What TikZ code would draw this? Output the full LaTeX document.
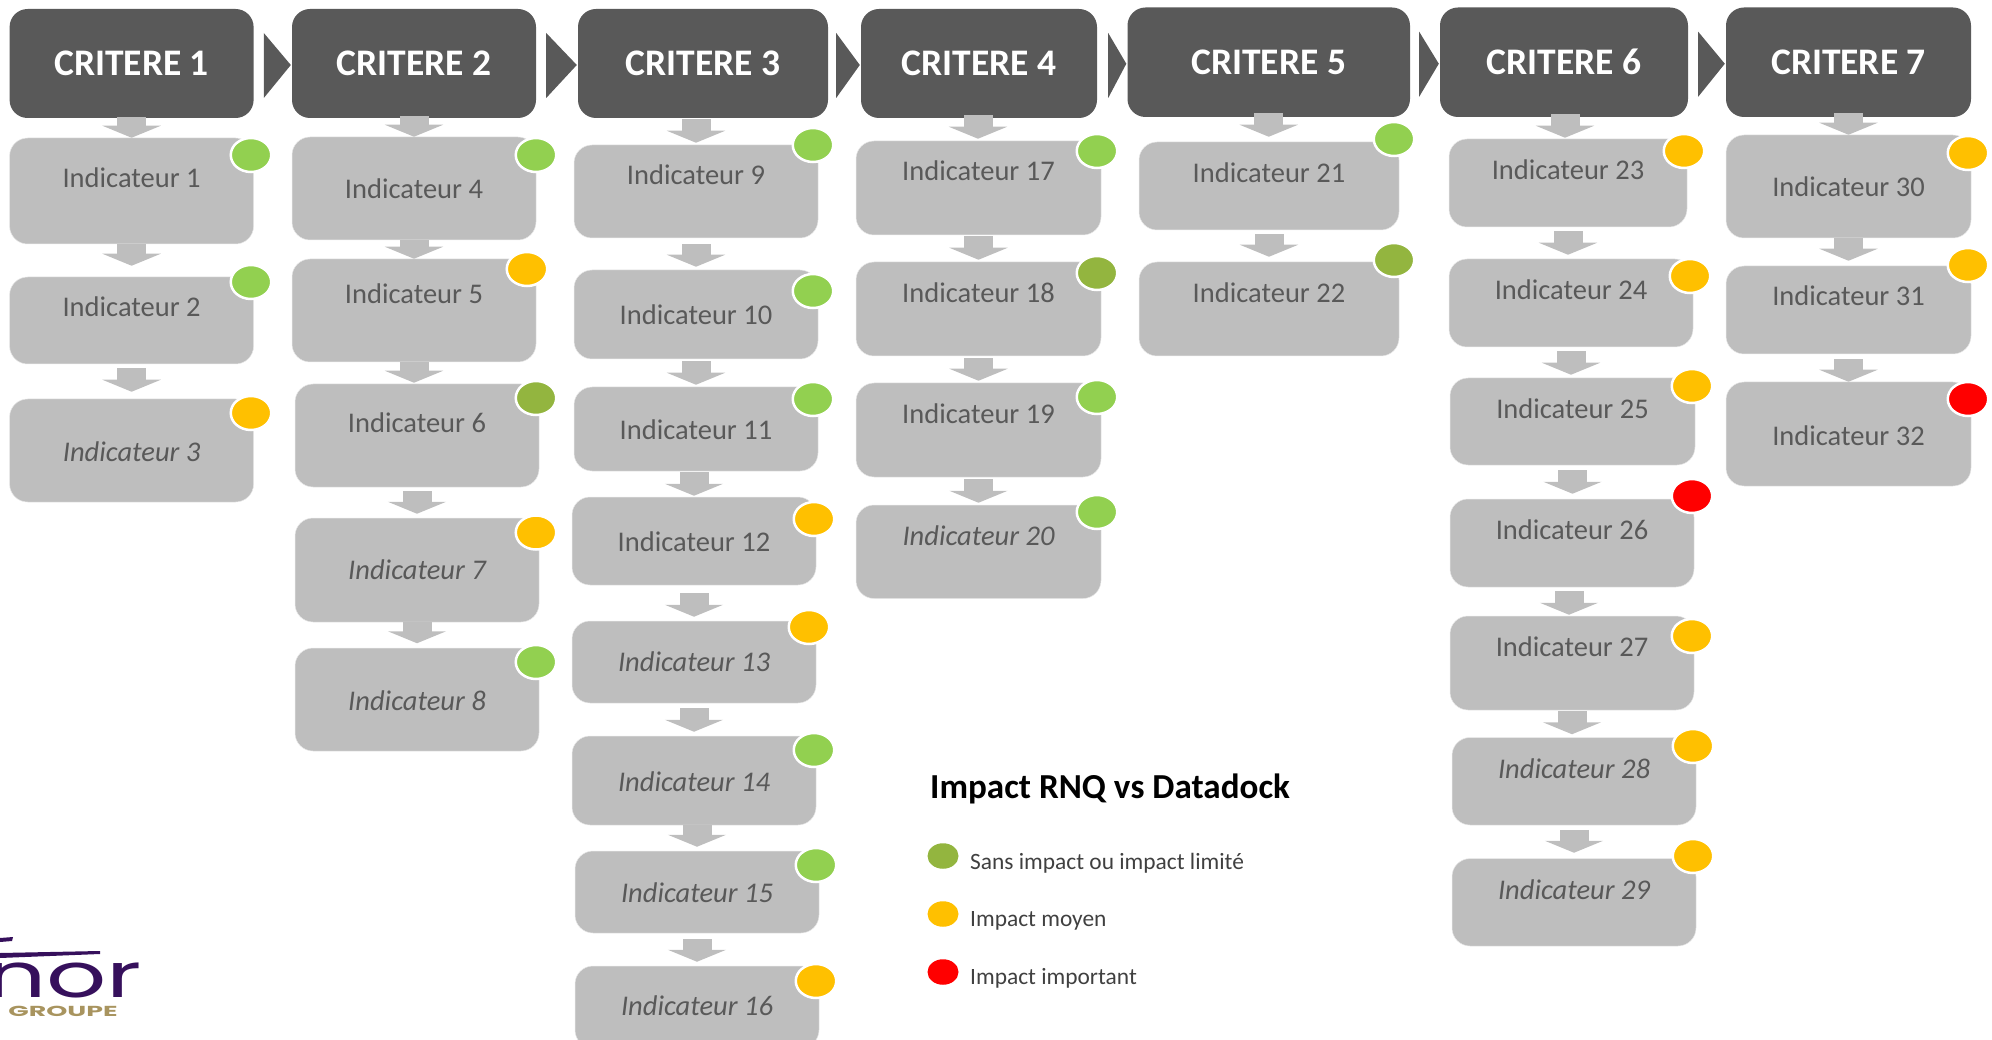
\documentclass[tikz,border=0pt]{standalone}
\usepackage{fontspec}
\setmainfont{Carlito}
\newfontfamily\logofont{Poppins}
\usetikzlibrary{arrows.meta,shapes.geometric}

\definecolor{fonce}{HTML}{595959}
\definecolor{clair}{HTML}{BEBEBE}
\definecolor{bord}{HTML}{E8E8E8}
\definecolor{vert}{HTML}{92D050}
\definecolor{olive}{HTML}{93B53F}
\definecolor{ambre}{HTML}{FFC000}
\definecolor{rouge}{HTML}{FF0000}
\definecolor{violet}{HTML}{36105C}
\definecolor{dore}{HTML}{A8945F}

\tikzset{
    entete/.style={rectangle,rounded corners=18pt,fill=fonce,inner sep=0pt,
        text=white,font=\fontsize{37.5}{44}\selectfont\bfseries},
    boite/.style={rectangle,rounded corners=18pt,fill=clair,draw=bord,line width=.5pt,inner sep=0pt},
    texte/.style={anchor=base,inner sep=0pt,text=fonce},
    pastille/.style={ellipse,draw=white,line width=2.5pt,inner sep=0pt,minimum width=40.5pt,minimum height=34pt},
    puce/.style={ellipse,inner sep=0pt,minimum width=31pt,minimum height=25.5pt},
    legende/.style={anchor=base west,inner sep=0pt,text=black!75,font=\fontsize{23.4}{28}\selectfont},
    fleche/.style={draw=clair,line width=29pt,-{Triangle[width=58pt,length=12pt]}},
    chevron/.style={fill=fonce}
}

% x1 y1 x2 y2 of a header
\newcommand{\tete}[6]{\node[entete,minimum width={(#4-#2)*1pt},minimum height={(#5-#3)*1pt}] (#1) at ({(#2+#4)/2},{(#3+#5)/2}) {\raisebox{-1.2pt}{#6}};}
% block arrow, dx from the source centre, then the offsets of both ends
\newcommand{\flow}[5]{
    \coordinate (s) at ([shift={(#3,#4)}]#1.south);
    \coordinate (e) at ([shift={(0,#5)}]#2.north);
    \draw[fleche] (s) -- (s |- e);
}

\begin{document}
\begin{tikzpicture}[x=1pt,y=-1pt]
    \useasboundingbox (0,0) rectangle (1992,1040);

    \tete{h1}{9.6}{9}{253.6}{118}{CRITERE 1}
    \tete{h2}{292}{9}{536}{118}{CRITERE 2}
    \tete{h3}{578}{9}{828}{118}{CRITERE 3}
    \tete{h4}{861}{9}{1097}{118}{CRITERE 4}
    \tete{h5}{1127.5}{7.5}{1410}{117}{CRITERE 5}
    \tete{h6}{1440}{7.5}{1688}{117}{CRITERE 6}
    \tete{h7}{1726}{7.5}{1971}{117}{CRITERE 7}

    \foreach \a/\b/\gap in {h1/h2/10,h2/h3/10,h3/h4/8,h4/h5/11,h5/h6/9,h6/h7/10}
        \fill[chevron] ([shift={(\gap,-30.5)}]\a.east) -- ([shift={(-1,1.5)}]\b.west) -- ([shift={(\gap,34.5)}]\a.east) -- cycle;

    % number / box / text y / shape / dot
    \foreach \num/\xa/\ya/\xb/\yb/\yt/\forme/\couleur/\xp/\yp in {
        1/9.6/138/253.6/244/178/\upshape/vert/251/155,
        2/9.6/277/253.6/364/307/\upshape/vert/251/282,
        3/9.6/399/253.6/502/451/\itshape/ambre/251/413,
        4/292/137/536/240/189/\upshape/vert/536/155,
        5/292/259/536/362/294/\upshape/ambre/527/269,
        6/295/384/539/487/422/\upshape/olive/536/398,
        7/295/518/539/622/569/\itshape/ambre/536/532.5,
        8/295/648/539/751/700/\itshape/vert/536/662,
        9/574/145/818/238/175/\upshape/vert/813/145,
        10/574/270/818/359/315/\upshape/vert/813/291,
        11/574/387/818/471/429/\upshape/vert/813/399,
        12/572/497/816/585/541/\upshape/ambre/814/519,
        13/572/621/816/703/661/\itshape/ambre/809/627,
        14/572/736/816/825/781/\itshape/vert/814/750,
        15/575/851/819/933/892.5/\itshape/vert/816/865,
        16/575/966/819/1048/1005/\itshape/ambre/816/981,
        17/856/141/1101/235/171/\upshape/vert/1097/151,
        18/856/262/1101/356/293/\upshape/olive/1097/273,
        19/856/383/1101/477/414/\upshape/vert/1097/397,
        20/856/505/1101/598.5/535/\itshape/vert/1097/512,
        21/1139/142/1399/230/173/\upshape/vert/1394/139,
        22/1139/262/1399/356/293/\upshape/olive/1394/260,
        23/1449/139/1687/227/170/\upshape/ambre/1684/151,
        24/1449/259/1693/347/290/\upshape/ambre/1690/276,
        25/1450/378/1695/465/408/\upshape/ambre/1692/386,
        26/1450/499/1694/587/529/\upshape/rouge/1692/496,
        27/1450/616/1694/710/646/\upshape/ambre/1692/636,
        28/1452/737.5/1696/825/768/\itshape/ambre/1693/746,
        29/1452/858.6/1696/946/889/\itshape/ambre/1693/856,
        30/1726/135/1971/238/187/\upshape/ambre/1968/153,
        31/1726/266/1971/354/296/\upshape/ambre/1968/265,
        32/1726/382/1971/486/435/\upshape/rouge/1968/399}
    {
        \node[boite,minimum width={(\xb-\xa)*1pt},minimum height={(\yb-\ya)*1pt}] (i\num) at ({(\xa+\xb)/2},{(\ya+\yb)/2}) {};
        \node[texte,font=\fontsize{28.5}{34}\selectfont\forme] (t\num) at ({(\xa+\xb)/2},{\yt+10}) {Indicateur \num};
        \node[pastille,fill=\couleur] (p\num) at (\xp,\yp) {};
    }

    \flow{h1}{i1}{0}{-1}{0}
    \flow{i1}{i2}{0}{0}{-11}
    \flow{i2}{i3}{0}{4}{-7}
    \flow{h2}{i4}{0}{-2}{0}
    \flow{i4}{i5}{0}{0}{0}
    \flow{i5}{i6}{0}{0}{-1}
    \flow{i6}{i7}{0}{4}{-4}
    \flow{i7}{i8}{0}{0}{-4.5}
    \flow{h3}{i9}{-7}{1}{-2}
    \flow{i9}{i10}{0}{6}{-3}
    \flow{i10}{i11}{0}{2}{-2}
    \flow{i11}{i12}{-2}{1}{-1}
    \flow{i12}{i13}{0}{8}{-4}
    \flow{i13}{i14}{0}{5}{-4}
    \flow{i14}{i15}{3}{0}{-4}
    \flow{i15}{i16}{0}{6}{-4}
    \flow{h4}{i17}{-1}{-3}{-2}
    \flow{i17}{i18}{0}{1}{-2}
    \flow{i18}{i19}{0}{2}{-2}
    \flow{i19}{i20}{0}{2}{-2}
    \flow{h5}{i21}{0}{-4}{-5}
    \flow{i21}{i22}{0}{4}{-5}
    \flow{h6}{i23}{1}{-3}{-1}
    \flow{i23}{i24}{0}{4}{-4}
    \flow{i24}{i25}{0}{4}{-3}
    \flow{i25}{i26}{0}{5}{-5}
    \flow{i26}{i27}{-3}{4}{-1}
    \flow{i27}{i28}{0}{1}{-3}
    \flow{i28}{i29}{0}{4.6}{-5.6}
    \flow{h7}{i30}{0}{-4}{0}
    \flow{i30}{i31}{0}{0}{-5}
    \flow{i31}{i32}{0}{5}{0}

    % legend
    \node[anchor=base west,inner sep=0pt,font=\fontsize{35.1}{42}\selectfont\bfseries] (titre) at (930,798) {Impact RNQ vs Datadock};
    \node[puce,fill=olive] (l1) at (943,856) {};
    \node[puce,fill=ambre] (l2) at (943,914) {};
    \node[puce,fill=rouge] (l3) at (943,972) {};
    \node[legende] (m1) at (970,869) {Sans impact ou impact limité};
    \node[legende] (m2) at (970,926) {Impact moyen};
    \node[legende] (m3) at (970,984) {Impact important};

    % logo, cut by the page edge
    \node[anchor=base west,inner sep=0pt,text depth=0pt,text height=36pt,text=violet,xscale=1.52,font=\logofont\fontsize{62}{62}\selectfont] (nor) at (-14,997) {nor};
    \fill[violet] (0,953) -- (100,951) -- (100,954) -- (0,958) -- cycle;
    \fill[violet] (0,938) -- (13,937) -- (12,941) -- (0,942) -- cycle;
    \node[anchor=base west,inner sep=0pt,text height=11pt,text depth=0pt,text=dore,xscale=1.85,font=\logofont\bfseries\fontsize{14.5}{15}\selectfont] (groupe) at (8,1016) {GROUPE};
\end{tikzpicture}
\end{document}
